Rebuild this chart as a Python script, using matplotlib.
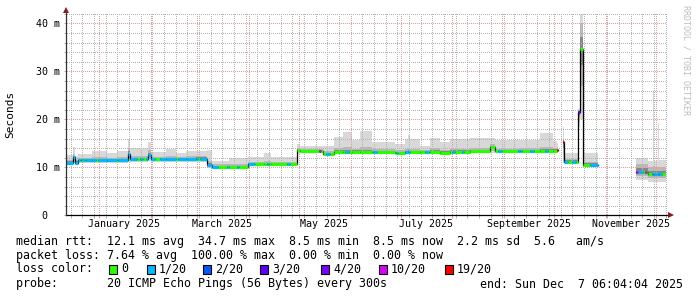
import numpy as np
import pandas as pd
import matplotlib
matplotlib.use("Agg")
import matplotlib.pyplot as plt
import matplotlib.dates as mdates
from matplotlib.collections import LineCollection
from matplotlib.patches import Rectangle

# ---------------- data ----------------
start_time = "2024-12-12 06:04"
end_time = "2025-12-07 06:04"

seg_start = [
    "2024-12-12 06:04", "2024-12-16 12:00", "2024-12-17 12:00", "2024-12-19 08:00",
    "2024-12-28 00:00", "2025-01-06 00:00", "2025-01-12 00:00", "2025-01-18 10:00",
    "2025-01-19 14:00", "2025-01-30 12:00", "2025-02-01 00:00", "2025-02-10 00:00",
    "2025-02-16 00:00", "2025-02-22 00:00", "2025-02-28 06:00", "2025-03-06 20:00",
    "2025-03-09 20:00", "2025-03-20 00:00", "2025-03-31 10:00", "2025-04-10 00:00",
    "2025-04-14 00:00", "2025-04-29 20:00", "2025-05-01 16:00", "2025-05-15 10:00",
    "2025-05-22 00:00", "2025-05-27 10:00", "2025-06-01 20:00", "2025-06-06 14:00",
    "2025-06-13 20:00", "2025-06-27 14:00", "2025-07-03 14:00", "2025-07-05 10:00",
    "2025-07-06 10:00", "2025-07-12 14:00", "2025-07-18 14:00", "2025-07-24 14:00",
    "2025-07-30 14:00", "2025-08-11 14:00", "2025-08-23 14:00", "2025-08-26 14:00",
    "2025-09-10 14:00", "2025-09-22 14:00", "2025-09-30 10:00", "2025-10-02 20:00",
    "2025-10-03 10:00", "2025-10-06 10:00", "2025-10-07 00:00", "2025-10-15 10:00",
    "2025-10-16 14:00", "2025-10-18 10:00", "2025-10-27 10:00", "2025-11-19 06:00",
    "2025-11-26 10:00", "2025-11-29 10:00", "2025-11-30 00:00", "2025-12-02 10:00",
    "2025-12-03 00:00",
]
# median rtt in ms (None = no data)
seg_median = [
    11.0, 12.1, 11.0, 11.45, 11.45, 11.45, 11.5, 12.8, 11.65, 12.6, 11.65, 11.65,
    11.65, 11.7, 11.8, 10.4, 10.1, 10.1, 10.6, 10.6, 10.6, 13.6, 13.3, 12.8,
    13.25, 13.25, 13.2, 13.2, 13.2, 13.0, 13.1, 13.1, 13.1, 13.2, 13.2, 13.0,
    13.2, 13.3, 14.2, 13.3, 13.4, 13.5, 13.5, 13.6, None, 15.3, 11.2, 21.5,
    34.7, 10.5, None, 9.1, 8.6, 8.6, 8.6, 8.6, 8.6,
]
# smoke extent (lowest / highest ping) in ms
seg_lo = [
    10.7, 11.0, 10.7, 11.0, 11.0, 11.0, 11.0, 11.2, 11.1, 11.3, 11.1, 11.1,
    11.1, 11.2, 11.2, 9.9, 9.7, 9.7, 10.2, 10.2, 10.2, 12.8, 12.9, 12.5,
    12.8, 12.8, 12.8, 12.8, 12.8, 12.7, 12.7, 12.7, 12.7, 12.8, 12.8, 12.6,
    12.8, 12.9, 13.0, 12.9, 13.0, 13.0, 13.0, 13.0, None, 11.0, 10.8, 18.4,
    20.0, 10.1, None, 7.4, 7.0, 7.0, 7.0, 7.0, 7.0,
]
seg_hi = [
    12.6, 14.2, 12.4, 12.8, 13.3, 12.9, 13.5, 16.0, 14.0, 15.3, 13.2, 13.8,
    13.0, 13.5, 13.3, 13.6, 11.4, 11.9, 12.2, 12.9, 12.2, 14.8, 14.5, 14.5,
    16.4, 17.4, 15.7, 17.5, 15.3, 14.8, 16.0, 16.7, 16.0, 14.5, 16.2, 15.3,
    15.9, 16.1, 16.1, 15.7, 15.7, 17.1, 15.5, 15.0, None, 18.4, 13.0, 22.2,
    42.0, 13.0, None, 12.0, 11.3, 25.7, 11.3, 19.2, 11.6,
]
# band holding most of the pings (inner smoke) in ms
seg_q_lo = [
    10.8, 11.5, 10.8, 11.2, 11.2, 11.2, 11.2, 11.8, 11.4, 11.8, 11.4, 11.4,
    11.4, 11.4, 11.5, 10.1, 9.9, 9.9, 10.4, 10.4, 10.4, 13.1, 13.1, 12.6,
    13.0, 13.0, 13.0, 13.0, 13.0, 12.8, 12.9, 12.9, 12.9, 13.0, 13.0, 12.8,
    13.0, 13.1, 13.5, 13.1, 13.2, 13.2, 13.2, 13.3, None, 12.5, 11.0, 19.5,
    27.0, 10.3, None, 8.2, 7.7, 7.7, 7.7, 7.7, 7.7,
]
seg_q_hi = [
    11.6, 12.8, 11.5, 12.0, 12.1, 12.0, 12.2, 14.0, 12.3, 13.6, 12.2, 12.3,
    12.2, 12.3, 12.4, 11.4, 10.6, 10.7, 11.1, 11.3, 11.1, 14.1, 13.8, 13.4,
    14.0, 14.2, 13.9, 14.2, 13.8, 13.6, 13.8, 14.0, 13.8, 13.7, 14.0, 13.7,
    13.9, 14.0, 14.8, 13.9, 14.0, 14.3, 14.0, 14.2, None, 16.0, 11.8, 22.0,
    40.0, 11.2, None, 10.6, 10.0, 10.2, 10.0, 10.1, 10.0,
]

loss_start = [
    "2024-12-12 06:04", "2024-12-20 16:00", "2024-12-21 12:00", "2024-12-23 16:00",
    "2024-12-24 12:00", "2024-12-30 06:00", "2024-12-31 12:00", "2025-01-11 20:00",
    "2025-01-12 18:00", "2025-01-23 20:00", "2025-01-25 16:00", "2025-01-27 10:00",
    "2025-01-29 06:00", "2025-02-03 16:00", "2025-02-06 16:00", "2025-02-16 06:00",
    "2025-02-17 10:00", "2025-03-01 10:00", "2025-03-02 16:00", "2025-03-13 10:00",
    "2025-03-18 20:00", "2025-03-20 00:00", "2025-03-24 20:00", "2025-03-26 00:00",
    "2025-03-31 10:00", "2025-04-04 16:00", "2025-04-11 20:00", "2025-04-13 00:00",
    "2025-04-23 20:00", "2025-04-25 16:00", "2025-05-13 00:00", "2025-05-14 00:00",
    "2025-05-17 06:00", "2025-05-19 16:00", "2025-05-28 16:00", "2025-05-31 00:00",
    "2025-06-14 10:00", "2025-06-16 20:00", "2025-06-28 06:00", "2025-06-29 10:00",
    "2025-07-03 10:00", "2025-07-06 10:00", "2025-07-15 10:00", "2025-07-17 20:00",
    "2025-07-31 16:00", "2025-08-02 10:00", "2025-08-06 16:00", "2025-08-07 20:00",
    "2025-08-28 06:00", "2025-08-30 16:00", "2025-09-09 10:00", "2025-09-11 20:00",
    "2025-09-16 16:00", "2025-09-19 00:00", "2025-09-25 16:00", "2025-09-27 10:00",
    "2025-10-02 20:00", "2025-10-07 00:00", "2025-10-09 10:00", "2025-10-11 20:00",
    "2025-10-14 06:00", "2025-10-15 10:00", "2025-10-16 14:00", "2025-10-22 16:00",
    "2025-11-19 06:00", "2025-11-20 04:00", "2025-11-23 10:00", "2025-11-24 16:00",
    "2025-11-25 20:00", "2025-11-28 20:00", "2025-12-04 20:00",
]
loss_code = [
    1, 0, 1, 0, 1, 0, 1, 0, 1, 0, 1, 0, 1, 0, 1, 0, 1, 0, 1, 0, 1, 0, 1, 0,
    1, 0, 1, 0, 1, 0, 5, 0, 1, 0, 1, 0, 1, 0, 1, 0, 1, 0, 1, 0, 1, 0, 1, 0,
    1, 0, 1, 0, 1, 0, 1, 0, 6, 1, 0, 1, 0, 3, 0, 1, 5, 1, 0, 5, 0, 1, 0,
]

loss_labels = ["0", "1/20", "2/20", "3/20", "4/20", "10/20", "19/20"]
loss_colors = ["#26ff00", "#00b8ff", "#0059ff", "#5e00ff", "#7e00ff", "#dd00ff", "#ff0000"]

y_ticks = [0, 10, 20, 30, 40]
y_tick_labels = ["0  ", "10 m", "20 m", "30 m", "40 m"]
x_label_months = ["2025-01-01", "2025-03-01", "2025-05-01", "2025-07-01", "2025-09-01", "2025-11-01"]
x_label_texts = ["January 2025", "March 2025", "May 2025", "July 2025", "September 2025", "November 2025"]

legend_rtt = "median rtt:  12.1 ms avg  34.7 ms max  8.5 ms min  8.5 ms now  2.2 ms sd  5.6   am/s"
legend_loss = "packet loss: 7.64 % avg  100.00 % max  0.00 % min  0.00 % now"
legend_probe = "probe:       20 ICMP Echo Pings (56 Bytes) every 300s"
legend_end = "end: Sun Dec  7 06:04:04 2025"

# ---------------- figure ----------------
W, H = 697, 297
fig = plt.figure(figsize=(W / 100, H / 100), dpi=100)
fig.patch.set_facecolor("white")
x0, x1 = 66, 666
y0, y1 = 215.3, 12.5
ax = fig.add_axes([x0 / W, 1 - y0 / H, (x1 - x0) / W, (y0 - y1) / H])
ax.set_facecolor("white")
ax_w, ax_h = x1 - x0, y0 - y1

t_start = mdates.date2num(pd.Timestamp(start_time))
t_end = mdates.date2num(pd.Timestamp(end_time))
ymax = ax_h / 4.8
ax.set_xlim(t_start, t_end)
ax.set_ylim(0, ymax)
for sp in ax.spines.values():
    sp.set_visible(False)


def arr(v):
    return np.array([np.nan if x is None else x for x in v], float)


s = mdates.date2num(pd.to_datetime(seg_start))
e = np.append(s[1:], t_end)
med, lo, hi = arr(seg_median), arr(seg_lo), arr(seg_hi)
qlo, qhi = arr(seg_q_lo), arr(seg_q_hi)

# contiguous runs of data
runs, cur = [], []
for i in range(len(s)):
    if np.isnan(med[i]):
        if cur:
            runs.append(cur)
        cur = []
    else:
        cur.append(i)
if cur:
    runs.append(cur)

for run in runs:
    xs = np.ravel([[s[i], e[i]] for i in run])
    m = np.repeat(med[run], 2)
    l, h = np.repeat(lo[run], 2), np.repeat(hi[run], 2)
    ql, qh = np.repeat(qlo[run], 2), np.repeat(qhi[run], 2)
    ax.fill_between(xs, l, h, color="#d8d8d8", lw=0, zorder=1)
    ax.fill_between(xs, ql, qh, color="#b8b8b8", lw=0, zorder=1)
    ax.fill_between(xs, m - 0.45 * (m - ql), m + 0.45 * (qh - m), color="#888888", lw=0, zorder=1)
    ax.plot(xs, m, color="black", lw=0.9, zorder=3, solid_joinstyle="miter")

# coloured median by loss
ls_ = mdates.date2num(pd.to_datetime(loss_start))
bps = np.unique(np.concatenate([s, ls_, [t_end]]))
segs, cols = [], []
for a, b in zip(bps[:-1], bps[1:]):
    si = np.searchsorted(s, a, side="right") - 1
    li = np.searchsorted(ls_, a, side="right") - 1
    if si < 0 or np.isnan(med[si]):
        continue
    segs.append([(a, med[si]), (b, med[si])])
    cols.append(loss_colors[loss_code[max(li, 0)]])
ax.add_collection(LineCollection(segs, colors=cols, linewidths=2.3, capstyle="butt", zorder=4))

# grid drawn as single-pixel square dots (1 on, 1 off)
weeks = mdates.date2num(pd.date_range(start_time, end_time, freq="W-SUN").normalize())
months = mdates.date2num(pd.date_range("2025-01-01", end_time, freq="MS"))
minor_col = "#b4b4b4"
major_col = "#f09a9a"
ny = np.arange(1.0, ax_h, 2) / ax_h
nx = np.arange(1.0, ax_w, 2) / ax_w


def dots(xv, yv, col, tr):
    ax.plot(xv, yv, ls="none", marker="s", ms=0.72, mew=0, mfc=col, mec="none",
            antialiased=False, zorder=2, transform=tr)


for t in weeks:
    dots(np.full_like(ny, t), ny, minor_col, ax.get_xaxis_transform())
for v in np.arange(2, ymax, 2):
    if v % 10:
        dots(nx, np.full_like(nx, v), minor_col, ax.get_yaxis_transform())
for t in months:
    dots(np.full_like(ny, t), ny, major_col, ax.get_xaxis_transform())
for v in y_ticks[1:]:
    dots(nx, np.full_like(nx, v), major_col, ax.get_yaxis_transform())

# ticks
mono = "DejaVu Sans Mono"
ax.set_xticks(months)
ax.set_xticks(weeks, minor=True)
ax.tick_params(axis="x", which="both", length=2, width=0.7, labelbottom=False)
ax.tick_params(axis="x", which="major", color=major_col)
ax.tick_params(axis="x", which="minor", color=minor_col)
ax.set_yticks(y_ticks)
ax.set_yticklabels(y_tick_labels, fontfamily=mono, fontsize=7.2)
ax.set_yticks(np.arange(0, ymax, 2), minor=True)
ax.tick_params(axis="y", which="both", length=1.5, width=0.7, pad=2.9, color=minor_col)

for d, txt in zip(x_label_months, x_label_texts):
    t = mdates.date2num(pd.Timestamp(d) + pd.Timedelta(days=15))
    ax.annotate(txt, xy=(t, 0), xycoords=("data", "axes fraction"), xytext=(0, -6.4),
                textcoords="offset points", ha="center", va="center",
                fontfamily=mono, fontsize=7.2, annotation_clip=False)

# axes lines and arrows
ax.plot([0, (669 - x0) / ax_w], [0, 0], transform=ax.transAxes, color="black", lw=0.9,
        clip_on=False, zorder=6)
ax.plot([0, 0], [0, (y0 - 11) / ax_h], transform=ax.transAxes, color="#303030", lw=0.9,
        clip_on=False, zorder=6)
arrow_col = "#8b1a1a"
ax.plot([(671 - x0) / ax_w], [0], marker=">", ms=4.5, color=arrow_col, mew=0,
        transform=ax.transAxes, clip_on=False, zorder=7)
ax.plot([0], [(y0 - 9.5) / ax_h], marker="^", ms=4.5, color=arrow_col, mew=0,
        transform=ax.transAxes, clip_on=False, zorder=7)

# labels
fig.text(10.5 / W, 1 - 114 / H, "Seconds", rotation=90, ha="center", va="center",
         fontfamily=mono, fontsize=8.0)
fig.text(686 / W, 1 - 5 / H, "RRDTOOL / TOBI OETIKER", rotation=270, ha="center", va="top",
         fontfamily=mono, fontsize=6.0, color="#bdbdbd")

# legend
leg_fs = 8.4
fig.text(16 / W, 1 - 241 / H, legend_rtt, ha="left", va="center", fontfamily=mono, fontsize=leg_fs)
fig.text(16 / W, 1 - 255 / H, legend_loss, ha="left", va="center", fontfamily=mono, fontsize=leg_fs)
fig.text(16 / W, 1 - 269 / H, "loss color:", ha="left", va="center", fontfamily=mono, fontsize=leg_fs)
fig.text(16 / W, 1 - 284 / H, legend_probe, ha="left", va="center", fontfamily=mono, fontsize=leg_fs)
fig.text(480 / W, 1 - 284 / H, legend_end, ha="left", va="center", fontfamily=mono, fontsize=leg_fs)

box_x = [109, 147, 203, 260, 321, 379, 445]
for bx, lab, col in zip(box_x, loss_labels, loss_colors):
    fig.add_artist(Rectangle((bx / W, 1 - 273.5 / H), 8 / W, 9 / H, transform=fig.transFigure,
                             facecolor=col, edgecolor="black", lw=0.8))
    fig.text((bx + 12) / W, 1 - 269 / H, lab, ha="left", va="center", fontfamily=mono, fontsize=leg_fs)

fig.savefig("out.png", dpi=100, facecolor="white")
